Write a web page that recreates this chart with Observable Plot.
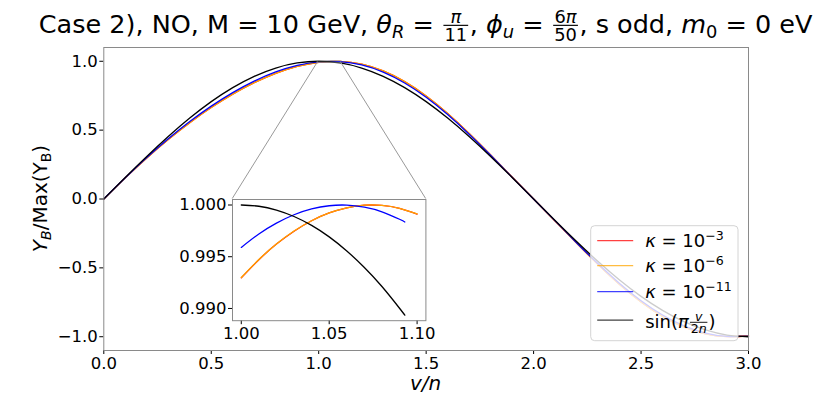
<!DOCTYPE html>
<html>
<head>
<meta charset="utf-8">
<script src="https://cdn.jsdelivr.net/npm/d3@7"></script>
<script src="https://cdn.jsdelivr.net/npm/@observablehq/plot@0.6"></script>
<style>
html,body{margin:0;padding:0;background:#fff;}
#wrap{position:relative;width:831px;height:394px;overflow:hidden;background:#fff;font-family:"DejaVu Sans",sans-serif;}
</style>
</head>
<body>
<div id="wrap"></div>
<script>
// ---------------- data ----------------
const xMain = [0.0,0.1,0.2,0.3,0.4,0.5,0.6,0.7,0.8,0.9,1.0,1.1,1.2,1.3,1.4,1.5,1.6,1.7,1.8,1.9,2.0,2.1,2.2,2.3,2.4,2.5,2.6,2.7,2.8,2.9,3.0];
const yKappa3  = [0,0.1536,0.2982,0.4321,0.5542,0.6640,0.7611,0.8444,0.9126,0.9631,0.9930,0.9991,0.9787,0.9297,0.8521,0.7477,0.6204,0.4756,0.3198,0.1593,0,-0.1593,-0.3198,-0.4756,-0.6204,-0.7477,-0.8521,-0.9297,-0.9787,-0.9991,-0.9930];
const yKappa6  = [0,0.1536,0.2982,0.4321,0.5542,0.6640,0.7611,0.8444,0.9126,0.9631,0.9930,0.9991,0.9787,0.9297,0.8521,0.7477,0.6204,0.4756,0.3198,0.1593,0,-0.1593,-0.3198,-0.4756,-0.6204,-0.7477,-0.8521,-0.9297,-0.9787,-0.9991,-0.9930];
const yKappa11 = [0,0.1542,0.3008,0.4373,0.5622,0.6744,0.7728,0.8561,0.9226,0.9700,0.9959,0.9976,0.9732,0.9213,0.8425,0.7384,0.6128,0.4706,0.3172,0.1586,0,-0.1586,-0.3172,-0.4706,-0.6128,-0.7384,-0.8425,-0.9213,-0.9732,-0.9976,-0.9959];
const ySin     = [0,0.1564,0.3090,0.4540,0.5878,0.7071,0.8090,0.8910,0.9511,0.9877,1.0000,0.9877,0.9511,0.8910,0.8090,0.7071,0.5878,0.4540,0.3090,0.1564,0,-0.1564,-0.3090,-0.4540,-0.5878,-0.7071,-0.8090,-0.8910,-0.9511,-0.9877,-1.0000];

const xInsetLong  = [1.00,1.01,1.02,1.03,1.04,1.05,1.06,1.07,1.08,1.09,1.10];
const xInsetShort = [1.00,1.01,1.02,1.03,1.04,1.05,1.06,1.07,1.08,1.09,1.093];
const insetKappa3  = [0.99296,0.99471,0.99622,0.99747,0.99848,0.99923,0.99973,0.99998,0.99996,0.99968,0.99912];
const insetKappa6  = [0.99299,0.99473,0.99623,0.99748,0.99848,0.99923,0.99973,0.99998,0.99996,0.99968,0.99914];
const insetKappa11 = [0.99590,0.99720,0.99825,0.99906,0.99962,0.99993,0.99999,0.99979,0.99934,0.99862,0.99836];
const insetSin     = [1.00000,0.99988,0.99951,0.99889,0.99803,0.99692,0.99556,0.99396,0.99212,0.99002,0.98935];

const seriesKeys   = ["k3","k6","k11","sin"];
const seriesColors = ["#ff0000","#ffa500","#0000ff","#000000"];
const kappaExponents = ["\u22123","\u22126","\u221211"];

const xTicks = [0.0,0.5,1.0,1.5,2.0,2.5,3.0];
const yTicks = [-1.0,-0.5,0.0,0.5,1.0];
const insetXTicks = [1.00,1.05,1.10];
const insetYTicks = [0.990,0.995,1.000];

// ---------------- layout ----------------
const W = 831, H = 394;
const M = {left:103.3, right:83, top:47, bottom:44};
const axW = W - M.left - M.right, axH = H - M.top - M.bottom;
const FONT = '"DejaVu Sans", sans-serif';
const TICK_FS = 16.5;

const mainY = [yKappa3, yKappa6, yKappa11, ySin];
const mainRows = [];
seriesKeys.forEach((k, j) => xMain.forEach((x, i) => mainRows.push({x, y: mainY[j][i], s: k})));

const insetData = [[xInsetLong, insetKappa3],[xInsetLong, insetKappa6],[xInsetShort, insetKappa11],[xInsetShort, insetSin]];
const insetRows = [];
seriesKeys.forEach((k, j) => insetData[j][0].forEach((x, i) => insetRows.push({x, y: insetData[j][1][i], s: k})));

const fmt1 = d3.format(".1f");
const wrap = document.getElementById("wrap");

const main = Plot.plot({
  width: W, height: H,
  marginLeft: M.left, marginRight: M.right, marginTop: M.top, marginBottom: M.bottom,
  x: {domain: [0, 3]},
  y: {domain: [-1.1, 1.1]},
  color: {domain: seriesKeys, range: seriesColors},
  style: {fontFamily: FONT, fontSize: TICK_FS + "px", background: "white", color: "black", overflow: "visible"},
  marks: [
    Plot.line(mainRows, {x: "x", y: "y", z: "s", stroke: "s", strokeWidth: 1.3, curve: "natural"}),
    Plot.axisX(xTicks, {tickFormat: fmt1, tickSize: 4, tickPadding: 3, label: null, fontSize: TICK_FS}),
    Plot.axisY(yTicks, {tickFormat: fmt1, tickSize: 4, tickPadding: 2, label: null, fontSize: TICK_FS}),
    Plot.frame({stroke: "#8a8a8a"})
  ]
});
main.style.position = "absolute"; main.style.left = "0px"; main.style.top = "0px";
wrap.appendChild(main);

// inset placement: axes-fraction [0.2, 0.1, 0.3, 0.4]
const fL = M.left + 0.2 * axW, fW = 0.3 * axW;
const fB = M.top + axH - 0.1 * axH, fH = 0.4 * axH, fT = fB - fH;
const pad = (e) => { const r = e[1] - e[0]; return [e[0] - 0.05 * r, e[1] + 0.05 * r]; };
const insetXDomain = pad(d3.extent(insetRows, d => d.x));
const insetYDomain = pad(d3.extent(insetRows, d => d.y));

const iml = 75, imr = 20, imt = 8, imb = 34;
const inset = Plot.plot({
  width: iml + fW + imr, height: imt + fH + imb,
  marginLeft: iml, marginRight: imr, marginTop: imt, marginBottom: imb,
  x: {domain: insetXDomain},
  y: {domain: insetYDomain},
  color: {domain: seriesKeys, range: seriesColors},
  style: {fontFamily: FONT, fontSize: TICK_FS + "px", background: "transparent", color: "black", overflow: "visible"},
  marks: [
    Plot.frame({fill: "white", stroke: "none"}),
    Plot.line(insetRows, {x: "x", y: "y", z: "s", stroke: "s", strokeWidth: 1.3, curve: "natural"}),
    Plot.axisX(insetXTicks, {tickFormat: d3.format(".2f"), tickSize: 4, tickPadding: 3, label: null, fontSize: TICK_FS}),
    Plot.axisY(insetYTicks, {tickFormat: d3.format(".3f"), tickSize: 4, tickPadding: 2, label: null, fontSize: TICK_FS}),
    Plot.frame({stroke: "#8a8a8a"})
  ]
});
inset.style.position = "absolute";
inset.style.left = (fL - iml) + "px";
inset.style.top = (fT - imt) + "px";
inset.style.maxWidth = "none";
wrap.appendChild(inset);

// ---------------- math text helper (runs of tspans, stacked fractions) ----------------
const nb = s => s.replace(/ /g, "\u00a0");
function mathText(parent, items, {x, y, size, anchor = "start", rotate = 0, fill = "black"}) {
  const outer = parent.append("g");
  const g = outer.append("g").attr("fill", fill).attr("font-family", FONT).attr("text-anchor", "start");
  let cx = 0, cur = null, curOff = 0, curStart = 0;
  const close = () => { if (cur) { cx = curStart + cur.node().getComputedTextLength(); cur = null; } };
  for (const it of items) {
    if (it.frac) {
      close();
      const fs = size * 0.7;
      const ax = -size * 0.30;
      const num = g.append("text").attr("font-size", fs).attr("text-anchor", "middle");
      it.frac[0].forEach(p => num.append("tspan").attr("font-style", p.it ? "italic" : null).text(nb(p.t)));
      const den = g.append("text").attr("font-size", fs).attr("text-anchor", "middle");
      it.frac[1].forEach(p => den.append("tspan").attr("font-style", p.it ? "italic" : null).text(nb(p.t)));
      const w = Math.max(num.node().getComputedTextLength(), den.node().getComputedTextLength()) + size * 0.2;
      num.attr("x", cx + w / 2).attr("y", ax - size * 0.10);
      den.attr("x", cx + w / 2).attr("y", ax + size * 0.10 + fs * 0.74);
      g.append("line").attr("x1", cx + size * 0.06).attr("x2", cx + w - size * 0.06)
        .attr("y1", ax).attr("y2", ax).attr("stroke", fill).attr("stroke-width", Math.max(0.9, size * 0.045));
      cx += w;
    } else {
      if (!cur) { cur = g.append("text").attr("x", cx).attr("y", 0).attr("font-size", size); curOff = 0; curStart = cx; }
      const small = it.sub || it.sup;
      const off = it.sub ? size * 0.2 : it.sup ? -size * 0.42 : 0;
      cur.append("tspan").attr("font-size", small ? size * 0.7 : size)
        .attr("font-style", it.it ? "italic" : null)
        .attr("dy", off - curOff).text(nb(it.t));
      curOff = off;
    }
  }
  close();
  const shift = anchor === "middle" ? cx / 2 : anchor === "end" ? cx : 0;
  outer.attr("transform", `translate(${x},${y}) rotate(${rotate})`);
  g.attr("transform", `translate(${-shift},0)`);
  return cx;
}

const svg = d3.select(main);

// zoom indicator rectangle and connectors (computed from the inset's domains)
const sx = main.scale("x"), sy = main.scale("y");
const rL = sx.apply(insetXDomain[0]), rR = sx.apply(insetXDomain[1]);
const rT = sy.apply(insetYDomain[1]), rB = sy.apply(insetYDomain[0]);
const ind = svg.append("g").attr("stroke", "#999").attr("fill", "none").attr("stroke-width", 1);
ind.append("rect").attr("x", rL).attr("y", rT).attr("width", rR - rL).attr("height", rB - rT).attr("stroke-opacity", 0.6);
ind.append("line").attr("x1", rL).attr("y1", rB).attr("x2", fL).attr("y2", fT);
ind.append("line").attr("x1", rR).attr("y1", rB).attr("x2", fL + fW).attr("y2", fT);

// title
mathText(svg, [
  {t: "Case 2), NO, M = 10 GeV, "}, {t: "\u03b8", it: 1}, {t: "R", it: 1, sub: 1}, {t: " = "},
  {frac: [[{t: "\u03c0", it: 1}], [{t: "11"}]]}, {t: ", "},
  {t: "\u03d5", it: 1}, {t: "u", it: 1, sub: 1}, {t: " = "},
  {frac: [[{t: "6"}, {t: "\u03c0", it: 1}], [{t: "50"}]]}, {t: ", s odd, "},
  {t: "m", it: 1}, {t: "0", sub: 1}, {t: " = 0 eV"}
], {x: M.left + axW / 2, y: 33, size: 25.5, anchor: "middle"});

// axis labels
mathText(svg, [{t: "v/n", it: 1}], {x: M.left + axW / 2, y: 390, size: 20, anchor: "middle"});
mathText(svg, [{t: "Y", it: 1}, {t: "B", it: 1, sub: 1}, {t: "/Max(Y"}, {t: "B", sub: 1}, {t: ")"}],
  {x: 47, y: M.top + axH / 2, size: 20, anchor: "middle", rotate: -90});

// legend
const lg = svg.append("g");
const LX = 590.7, LY = 225.7, LW = 147.3, LH = 115;
lg.append("rect").attr("x", LX).attr("y", LY).attr("width", LW).attr("height", LH).attr("rx", 4)
  .attr("fill", "white").attr("fill-opacity", 0.8).attr("stroke", "#d4d4d4").attr("stroke-width", 1);
const rowY = [240.7, 265.7, 291.7, 320.2];
const legendItems = [
  ...kappaExponents.map(e => [{t: "\u03ba", it: 1}, {t: " = 10"}, {t: e, sup: 1}]),
  [{t: "sin("}, {t: "\u03c0", it: 1}, {frac: [[{t: "v", it: 1}], [{t: "2"}, {t: "n", it: 1}]]}, {t: ")"}]
];
seriesKeys.forEach((k, i) => {
  lg.append("line").attr("x1", LX + 6.5).attr("x2", LX + 42.5).attr("y1", rowY[i]).attr("y2", rowY[i])
    .attr("stroke", seriesColors[i]).attr("stroke-width", 1.3).attr("stroke-opacity", 0.75);
  mathText(lg, legendItems[i], {x: LX + 54.5, y: rowY[i] + (i === 3 ? 7.5 : 6.5), size: 18, anchor: "start"});
});
</script>
</body>
</html>
